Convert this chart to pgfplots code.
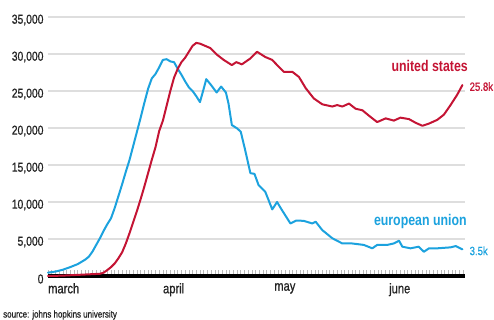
\documentclass[border=0pt]{standalone}
\usepackage{fontspec}
\setmainfont[FakeStretch=0.8]{Liberation Sans}
\newfontfamily\medfont[FakeStretch=0.8,FakeBold=0.8]{Liberation Sans}
\usepackage{pgfplots}
\pgfplotsset{compat=1.18}
\definecolor{usred}{RGB}{196,20,52}
\definecolor{eublue}{RGB}{28,162,222}
\definecolor{txt}{RGB}{35,35,35}
\definecolor{gridc}{RGB}{222,222,222}
\begin{document}
\begin{tikzpicture}
\path[use as bounding box] (0,0) rectangle (494bp,320bp);
\begin{axis}[
  at={(48bp,44bp)}, anchor=south west,
  scale only axis, width=417bp, height=259bp,
  xmin=0, xmax=112.5, ymin=0, ymax=35000,
  axis x line*=bottom, axis y line*=left,
  x axis line style={-, black, line width=3bp},
  y axis line style={draw=none},
  ytick={0,5000,...,35000},
  ytick style={draw=none},
  ymajorgrids, grid style={gridc, line width=1.3bp},
  xtick={0,31,61,92},
  xticklabels={march,april,may,june},
  major x tick style={draw=none},
  minor xtick={0,1,...,112},
  minor x tick style={gray!55, line width=0.6bp},
  minor tick length=5.5bp,
  tick align=inside,
  scaled y ticks=false,
  /pgf/number format/.cd, 1000 sep={,}, assume math mode=true,
  /pgfplots/.cd,
  yticklabel style={font=\medfont\fontsize{13}{13}\selectfont, text=txt, yshift=-3bp, xshift=-1bp},
  xticklabel style={font=\medfont\fontsize{14}{14}\selectfont, text=txt, anchor=north west, inner sep=0pt, yshift=-7bp},
  every axis plot/.append style={line join=round, line cap=round},
  clip=false,
]
\addplot[eublue, line width=2bp] coordinates {
(0,450) (2,600) (4,850) (6,1200) (8,1600) (10,2200) (11,2600) (12,3300) (13,4200) (14,5100) (15,6100) (16,7000) (17,7800) (18,9200) (19,10800) (20,12400) (21,14100) (22,15700) (23,17600) (24,19500) (25,21400) (26,23400) (27,25300) (28,26700) (29,27300) (30,28200) (31,29200) (32,29300) (33,29000) (34,28900) (35,28000) (36,27200) (37,26300) (38,25500) (39,25000) (40,24300) (41,23500) (42,25300) (42.7,26600) (44,25800) (45.5,24800) (46.7,25600) (48,24800) (48.7,23300) (49.6,20400) (51,19950) (52,19500) (53.2,17000) (54.6,13900) (55.7,13800) (56.8,12300) (58.6,11400) (60.5,9000) (61.8,10000) (63,9000) (65.4,7100) (67,7500) (69,7450) (71.3,7100) (72.2,7340) (74,6200) (76.7,5100) (79.4,4400) (82,4400) (85.2,4200) (87.5,3740) (88.8,4200) (91.5,4200) (93.3,4400) (94.7,4770) (95.6,3960) (97.8,3740) (100,3960) (101.4,3280) (102.8,3740) (105,3740) (108.6,3870) (110,4050) (111.8,3600)
};
\addplot[usred, line width=2bp] coordinates {
(0,0) (4,50) (8,150) (12,250) (14,300) (15,450) (16,800) (17,1200) (18,1700) (19,2400) (20,3200) (21,4400) (22,5800) (23,7300) (24,8800) (25,10400) (26,12100) (27,13900) (28,15700) (29,17400) (30,19600) (31,21000) (32,23000) (33,25000) (34,26800) (35,28000) (36,28900) (37,29500) (38,30300) (39,31100) (40,31500) (41,31400) (42.4,31100) (43.8,30800) (45.6,29900) (47.4,29200) (49.6,28500) (50.8,28900) (52.3,28600) (54.6,29400) (56.4,30300) (58.6,29600) (60.5,29200) (62,28400) (63.6,27600) (65.9,27600) (67.7,26900) (69.5,25400) (71.7,24000) (74,23200) (76.7,22900) (78,23100) (79.4,22900) (81.2,23300) (83,22600) (84.8,22400) (87,21500) (88.8,20800) (91.1,21300) (93.3,21000) (95.1,21400) (97.4,21200) (99.2,20700) (101,20300) (102.8,20600) (105,21100) (106.8,21800) (108.6,23100) (110.4,24500) (111.8,25800)
};
\node[anchor=east, inner sep=0pt, text=usred, font=\fontsize{15.5}{15.5}\selectfont\bfseries] at (axis cs:113.3,28400) {united states};
\node[anchor=west, inner sep=0pt, text=usred, font=\medfont\fontsize{12}{12}\selectfont] at (axis cs:113.7,25600) {25.8k};
\node[anchor=east, inner sep=0pt, text=eublue, font=\fontsize{15.5}{15.5}\selectfont\bfseries] at (axis cs:113.0,7300) {european union};
\node[anchor=west, inner sep=0pt, text=eublue, font=\medfont\fontsize{12}{12}\selectfont] at (axis cs:113.7,3400) {3.5k};
\end{axis}
\node[anchor=west, inner sep=0pt, text=txt, font=\medfont\fontsize{10}{10}\selectfont] at (3bp,5bp) {source: johns hopkins university};
\end{tikzpicture}
\end{document}
